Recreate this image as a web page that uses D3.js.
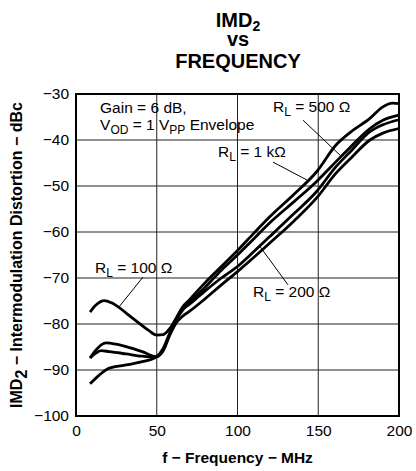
<!DOCTYPE html>
<html>
<head>
<meta charset="utf-8">
<script src="https://cdn.jsdelivr.net/npm/d3@7"></script>
<style>
  body { margin: 0; background: #fff; }
  svg { display: block; font-family: "Liberation Sans", Arial, sans-serif; }
  .tick text { font-size: 15.5px; fill: #000; }
  .domain { display: none; }
</style>
</head>
<body>
<div id="chart"></div>
<script>
// frequency (MHz) / IMD2 (dBc)
const rl100 = [[8.7,-77.4],[12,-76],[17.5,-74.9],[22,-75.4],[27,-76.5],[33,-78.2],[39,-79.8],[45,-81.4],[50,-82.4],[54,-82.3],[58,-81],[62,-78.8],[66,-76.8],[70,-75.8],[80,-72.8],[90,-70],[100,-67.5],[110,-64.3],[120,-61],[135,-56],[149,-51.2],[161,-45.8],[170,-42.5],[182,-38.2],[190,-36.7],[200,-35.6]];
const rl200 = [[8.7,-87.4],[12,-85.8],[18.6,-84.1],[25,-84.4],[31,-84.9],[41,-86],[49.5,-87.1],[54,-85.8],[58,-82.5],[62,-79.8],[66,-78.3],[70,-77.3],[80,-74.5],[90,-71.5],[100,-68.6],[114,-64.3],[120,-62.4],[135,-57.6],[149,-52.6],[161,-47.2],[170,-44],[182,-40],[190,-38.5],[200,-37.5]];
const rl500 = [[8.7,-87.4],[12,-86.4],[15.5,-85.8],[20.6,-86],[31,-86.5],[41,-87],[49.5,-87.2],[54,-85.6],[58,-82.2],[62,-79.2],[66,-77],[70,-75.4],[80,-72],[90,-68.3],[100,-65],[110,-61.5],[120,-58],[135,-53.4],[149,-49],[161,-44.7],[170,-41.5],[182,-37.5],[190,-35.7],[200,-34.6]];
const rl1k = [[8.7,-93],[14.4,-91.1],[20.6,-89.6],[31,-88.9],[41,-88.2],[49.5,-87.2],[54,-85.3],[58,-82],[62,-78.8],[66,-76.3],[70,-74.8],[80,-71],[90,-67.5],[100,-64],[110,-60.3],[120,-56.7],[135,-51.8],[149,-46.9],[161,-41.1],[170,-38.3],[182,-35.3],[190,-32.8],[196,-32],[200,-32.1]];

const xTicks = [0, 50, 100, 150, 200];
const yTicks = [-100, -90, -80, -70, -60, -50, -40, -30];
const loadNames = ["100 Ω", "200 Ω", "500 Ω", "1 kΩ"];

const width = 416, height = 471;
const margin = { top: 94, right: 17, bottom: 55, left: 76 };
const w = width - margin.left - margin.right;
const h = height - margin.top - margin.bottom;

const svg = d3.select("#chart").append("svg")
    .attr("width", width)
    .attr("height", height);

const x = d3.scaleLinear().domain([0, 200]).range([0, w]);
const y = d3.scaleLinear().domain([-100, -30]).range([h, 0]);

// title, one text per line
const titleText = (yPos) => svg.append("text")
    .attr("x", 238).attr("y", yPos)
    .attr("text-anchor", "middle")
    .style("font-weight", "bold")
    .style("font-size", "20px");
const t1 = titleText(27);
t1.append("tspan").text("IMD");
t1.append("tspan").attr("dy", 4).style("font-size", "14px").text("2");
titleText(46).text("vs");
titleText(68).text("FREQUENCY");

const g = svg.append("g")
    .attr("transform", `translate(${margin.left},${margin.top})`);

// grid
g.selectAll(".vgrid").data(xTicks).join("line")
    .attr("x1", d => x(d)).attr("x2", d => x(d))
    .attr("y1", 0).attr("y2", h)
    .attr("stroke", "#222").attr("stroke-width", 1);
g.selectAll(".hgrid").data(yTicks).join("line")
    .attr("x1", 0).attr("x2", w)
    .attr("y1", d => y(d)).attr("y2", d => y(d))
    .attr("stroke", "#222").attr("stroke-width", 1);

// axes
g.append("g")
    .call(d3.axisLeft(y).tickValues(yTicks).tickSize(0).tickPadding(7));
g.append("g")
    .attr("transform", `translate(0,${h})`)
    .call(d3.axisBottom(x).tickValues(xTicks).tickSize(0).tickPadding(9));

// curves
const line = d3.line()
    .x(d => x(d[0]))
    .y(d => y(d[1]))
    .curve(d3.curveMonotoneX);

g.selectAll(".curve").data([rl100, rl200, rl500, rl1k]).join("path")
    .attr("class", "curve")
    .attr("d", line)
    .attr("fill", "none")
    .attr("stroke", "#000")
    .attr("stroke-width", 2.8)
    .attr("stroke-linejoin", "round");

// frame
g.append("rect")
    .attr("width", w).attr("height", h)
    .attr("fill", "none")
    .attr("stroke", "#000")
    .attr("stroke-width", 2);

// test conditions
g.append("text")
    .attr("x", x(14.9)).attr("y", y(-34.1))
    .style("font-size", "15.5px")
    .text("Gain = 6 dB,");
const v = g.append("text")
    .attr("x", x(14.9)).attr("y", y(-37.8))
    .style("font-size", "15.5px");
v.append("tspan").text("V");
v.append("tspan").attr("dy", 4).style("font-size", "12px").text("OD");
v.append("tspan").attr("dy", -4).text(" = 1 V");
v.append("tspan").attr("dy", 4).style("font-size", "12px").text("PP");
v.append("tspan").attr("dy", -4).text(" Envelope");

// load labels with leader lines (data coords)
const notes = [
    { name: loadNames[0], at: [11.8, -68.9], from: [41.5, -69.8], to: [26.6, -76.3] },
    { name: loadNames[1], at: [109.6, -74.1], from: [131.3, -71.5], to: [114, -63.2] },
    { name: loadNames[2], at: [122, -33.9], from: [140.6, -35.7], to: [163.5, -43.3] },
    { name: loadNames[3], at: [87.9, -43.7], from: [122, -44.8], to: [143, -48.7] }
];

notes.forEach(n => {
    g.append("line")
        .attr("x1", x(n.from[0])).attr("y1", y(n.from[1]))
        .attr("x2", x(n.to[0])).attr("y2", y(n.to[1]))
        .attr("stroke", "#000").attr("stroke-width", 1);
    const t = g.append("text")
        .attr("x", x(n.at[0])).attr("y", y(n.at[1]))
        .style("font-size", "15.5px");
    t.append("tspan").text("R");
    t.append("tspan").attr("dy", 4).style("font-size", "12px").text("L");
    t.append("tspan").attr("dy", -4).text(" = " + n.name);
});

// axis titles
svg.append("text")
    .attr("x", margin.left + w / 2)
    .attr("y", 463)
    .attr("text-anchor", "middle")
    .style("font-weight", "bold")
    .style("font-size", "15.5px")
    .text("f − Frequency − MHz");

const yl = svg.append("text")
    .attr("transform", `translate(22,${margin.top + h / 2}) rotate(-90)`)
    .attr("text-anchor", "middle")
    .style("font-weight", "bold")
    .style("font-size", "16px");
yl.append("tspan").text("IMD");
yl.append("tspan").attr("dy", 5).text("2");
yl.append("tspan").attr("dy", -5).text(" − Intermodulation Distortion − dBc");
</script>
</body>
</html>
